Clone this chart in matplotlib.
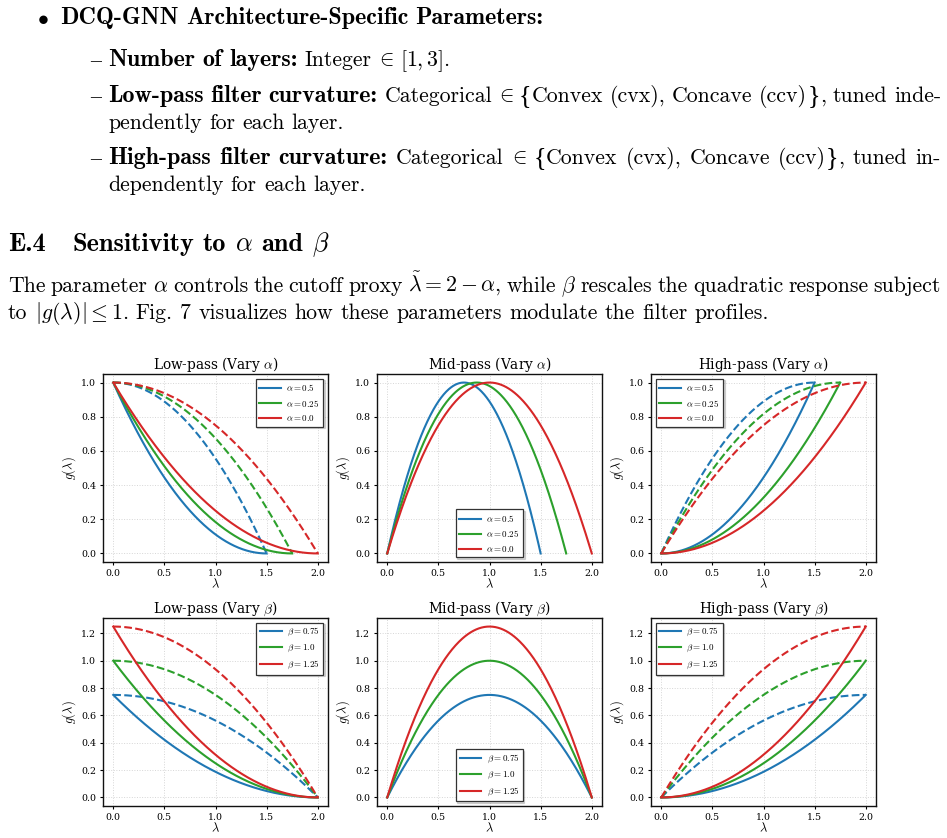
import numpy as np
import matplotlib
matplotlib.use('Agg')
import matplotlib.pyplot as plt

plt.rcParams['font.family'] = 'serif'
plt.rcParams['font.serif'] = ['DejaVu Serif']
plt.rcParams['mathtext.fontset'] = 'cm'

# filter parameters shown in the panels
alphas = [0.5, 0.25, 0.0]
betas = [0.75, 1.0, 1.25]
colors = ['#1f77b4', '#2ca02c', '#d62728']
kinds = ['low', 'mid', 'high']
kind_names = {'low': 'Low-pass', 'mid': 'Mid-pass', 'high': 'High-pass'}
legend_loc = {'low': 'upper right', 'mid': 'lower center', 'high': 'upper left'}

# page size in pixels
W, H = 947, 838
fig = plt.figure(figsize=(W / 100, H / 100), dpi=100)
renderer = fig.canvas.get_renderer()

BODY = 15.7
BOLD = 17.3
SPACE = 0.333 * BODY * 100 / 72
FAMS = {'r': 'cmr10', 'b': 'cmb10', 'ls': 'Liberation Serif', 'br': 'Liberation Serif'}


def put(s, x, y, fam='r', size=None):
    if size is None:
        size = {'b': BOLD, 'br': BODY * 1.2}.get(fam, BODY)
    return fig.text(x / W, 1 - y / H, s, fontsize=size, fontfamily=FAMS[fam],
                    va='baseline', ha='left')


def line(tokens, x0, y, x1=None, size=None):
    # a token is a list of pieces glued together; tokens are split by word gaps
    # a piece with family 'k' is only a kern of that many pixels
    groups = []
    for tok in tokens:
        arts, ws = [], []
        for s, f in tok:
            if f == 'k':
                arts.append(None)
                ws.append(float(s))
            else:
                a = put(s, 0, y, f, size)
                arts.append(a)
                ws.append(a.get_window_extent(renderer).width)
        groups.append((arts, ws))
    total = sum(sum(ws) for _, ws in groups)
    if x1 is None:
        gap = SPACE * (size or BODY) / BODY
    else:
        gap = (x1 - x0 - total) / (len(groups) - 1)
    x = x0
    for arts, ws in groups:
        for a, w in zip(arts, ws):
            if a is not None:
                a.set_x(x / W)
            x += w
        x += gap


def words(s, fam='r'):
    return [[(w, fam)] for w in s.split(' ')]


elem = [('-3', 'k'), (r'$\in$', 'r'), ('-2', 'k')]

# ---- text of the page ----
put(r'$\bullet$', 37, 24)
line(words('DCQ-GNN Architecture-Specific Parameters:', 'b'), 60, 24)

put('\u2013', 90, 66, 'ls')
line(words('Number of layers:', 'b') + words('Integer') + [elem, [(r'$[1,3]$.', 'r')]],
     108, 66)

set_tok = words('Categorical') + [elem,
                                  [('{', 'br'), ('Convex', 'r')], [('(cvx),', 'r')],
                                  [('Concave', 'r')], [('(ccv)', 'r'), ('}', 'br'), (',', 'r')],
                                  [('tuned', 'r')]]
put('\u2013', 90, 102, 'ls')
line(words('Low-pass filter curvature:', 'b') + set_tok + [[('inde-', 'r')]], 108, 102, 941)
line(words('pendently for each layer.'), 108, 129)

put('\u2013', 90, 164, 'ls')
line(words('High-pass filter curvature:', 'b') + set_tok + [[('in-', 'r')]], 108, 164, 941)
line(words('dependently for each layer.'), 108, 191)

put('E.4', 8, 251, 'b', 18.9)
line(words('Sensitivity to', 'b') + [[(r'$\alpha$', 'b')], [('and', 'b')], [(r'$\beta$', 'b')]],
     72, 251, size=18.9)

line(words('The parameter') + [[(r'$\alpha$', 'r')]] + words('controls the cutoff proxy')
     + [[(r'$\tilde{\lambda}=2-\alpha$,', 'r')], [('while', 'r')], [(r'$\beta$', 'r')]]
     + words('rescales the quadratic response subject'), 8, 292, 941)
line([[('to', 'r')], [(r'$|g(\lambda)|\leq1$.', 'r')]]
     + words('Fig. 7 visualizes how these parameters modulate the filter profiles.'), 8, 319)


# ---- filter curves ----
def response(kind, lam, cut, beta, concave=False):
    t = lam / cut
    if kind == 'low':
        return beta * (1 - t ** 2) if concave else beta * (1 - t) ** 2
    if kind == 'high':
        return beta * (1 - (1 - t) ** 2) if concave else beta * t ** 2
    return 4 * beta * t * (1 - t)


col_left = [103, 377, 651]
row_top = [374, 618]
aw, ah = 225, 188

for r, vary in enumerate(['alpha', 'beta']):
    params = alphas if vary == 'alpha' else betas
    sym = r'\alpha' if vary == 'alpha' else r'\beta'
    for c, kind in enumerate(kinds):
        ax = fig.add_axes([col_left[c] / W, 1 - (row_top[r] + ah) / H, aw / W, ah / H])
        for p, col in zip(params, colors):
            a = p if vary == 'alpha' else 0.0
            b = p if vary == 'beta' else 1.0
            cut = 2 - a
            lam = np.linspace(0, cut, 300)
            ax.plot(lam, response(kind, lam, cut, b), color=col, lw=1.5,
                    label=f'${sym}={p}$')
            if kind != 'mid':
                ax.plot(lam, response(kind, lam, cut, b, True), color=col, lw=1.5, ls='--')
        ax.set_title(f'{kind_names[kind]} (Vary ${sym}$)', fontsize=9.8, pad=3)
        ax.set_xlabel(r'$\lambda$', fontsize=9, labelpad=0)
        ax.set_ylabel(r'$g(\lambda)$', fontsize=9, labelpad=2)
        ax.tick_params(labelsize=6.8, length=2.5, width=0.8, pad=2.5)
        ax.set_xticks([0.0, 0.5, 1.0, 1.5, 2.0])
        ax.grid(True, ls=':', lw=0.7, color='#d6d6d6')
        for s in ax.spines.values():
            s.set_linewidth(1.0)
            s.set_color('#111111')
        leg = ax.legend(loc=legend_loc[kind], fontsize=6.5, fancybox=False, framealpha=1,
                        edgecolor='#333333', handlelength=2.4, handletextpad=0.6,
                        borderaxespad=0.5, shadow={'color': '0.5', 'alpha': 0.3,
                                                   'ox': 1.0, 'oy': -1.0})
        leg.get_frame().set_linewidth(0.9)

fig.savefig('out.png', dpi=100)
